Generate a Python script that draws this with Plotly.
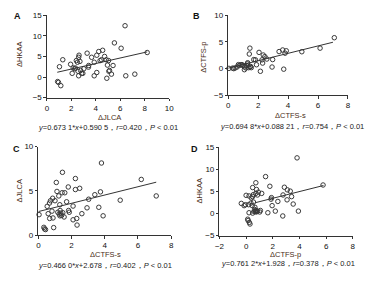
import plotly.graph_objects as go

# ---------------- data ----------------
A_x = [6.39,5.52,6.07,8.2,3.29,4.24,4.56,4.72,4.08,3.66,2.63,2.6,2.41,2.7,2.5,1.3,1.94,1.03,4.46,4.35,5.04,4.85,5.41,5.12,5.28,5.07,4.9,4.08,3.87,3.42,3.4,3.02,2.94,2.84,2.6,2.55,2.28,2.33,2.15,2.07,2.76,6.45,7.19,0.88,0.95,1.14,3.87,4.95]
A_y = [12.47,8.3,7.0,5.96,5.8,6.2,6.5,5.0,5.3,4.8,5.3,4.8,4.0,3.8,3.6,4.2,3.1,2.5,4.2,4.0,4.0,4.2,2.8,1.6,0.7,1.4,-0.3,1.1,0.3,2.8,2.4,2.0,0.9,0.9,0.3,1.4,2.0,2.2,2.2,0.9,1.6,0.3,0.7,-1.1,-1.3,-2.1,3.6,2.9]
A_fit = (0.6731, 0.5905)
A_line_x = [0.85, 8.2]

B_x = [7.09,6.14,4.92,3.88,3.8,3.64,3.4,3.71,2.93,2.97,2.58,2.34,2.45,2.26,2.3,2.06,2.15,1.82,1.71,1.89,1.45,1.41,0.46,0.37,0.59,0.74,0.85,0.98,1.1,1.24,1.28,1.37,1.45,1.54,1.08,1.19,0.05,0.68,0.92,1.3,1.5,0.3]
B_y = [5.8,3.84,3.17,3.35,2.9,3.5,3.2,-0.1,0.3,1.7,1.8,2.56,2.26,1.65,1.04,3.05,-0.5,1.65,1.7,0.73,3.84,2.74,0.12,0.0,0.3,0.6,0.73,0.6,0.3,0.6,0.9,0.18,0.3,0.18,-0.2,0.12,0.05,0.75,0.75,1.1,0.4,0.1]
B_fit = (0.6948, 0.08821)
B_line_x = [0.0, 7.0]

C_x = [3.8,1.45,6.2,2.23,1.08,1.8,2.49,2.23,1.12,1.43,1.59,1.23,3.4,3.74,7.1,4.93,3.03,0.86,0.73,0.67,0.53,1.0,1.7,2.09,1.29,1.82,1.86,2.62,2.93,3.64,3.9,2.31,2.09,2.33,0.92,0.33,0.37,0.43,0.04,0.59,0.82,0.88,0.68,1.17,1.25,1.35,1.4,1.47,1.3,1.55,1.31]
C_y = [8.15,7.1,6.3,6.4,5.96,5.45,5.3,5.16,4.95,4.8,4.8,4.44,4.58,4.9,4.44,3.96,4.07,4.18,3.9,3.64,3.27,3.9,3.78,3.3,3.45,2.8,2.6,2.44,3.1,3.16,2.2,1.9,1.75,1.16,0.87,0.9,0.73,0.65,2.33,2.44,2.73,1.96,1.9,2.6,2.4,2.5,2.25,2.55,2.2,2.07,2.8]
C_fit = (0.4660, 2.678)
C_line_x = [0.0, 7.1]

D_x = [3.82,1.46,5.77,0.73,1.78,0.49,2.87,3.09,3.31,0.78,0.92,1.17,0.73,0.54,0.0,0.22,0.85,0.49,0.39,1.9,1.87,2.77,3.41,3.07,2.38,3.53,1.95,2.19,1.63,2.75,3.92,-0.36,-0.15,-0.05,0.19,0.36,0.46,0.66,0.22,0.64,0.73,0.8,0.68,0.85,0.75,0.6,1.07,1.02,0.49,0.12,0.15,0.24,0.29,0.55]
D_y = [12.6,8.36,6.46,6.97,6.17,5.88,5.95,5.36,5.07,5.44,4.85,4.56,4.56,4.27,4.12,3.98,4.2,3.83,3.54,3.6,3.25,4.2,3.83,3.1,2.74,2.15,1.79,0.55,0.18,-0.55,0.55,2.3,1.79,2.0,2.0,2.37,1.79,1.42,0.18,0.9,0.7,0.6,0.5,0.5,0.35,0.45,0.69,0.35,0.1,-1.28,-1.57,-2.0,-2.37,2.6]
D_fit = (0.7612, 1.928)
D_line_x = [0.65, 5.8]

panel_labels = ["A", "B", "C", "D"]
x_titles = ["ΔJLCA", "ΔCTFS-s", "ΔCTFS-s", "ΔCTFS-p"]
y_titles = ["ΔHKAA", "ΔCTFS-p", "ΔJLCA", "ΔHKAA"]
equations = [
    "<i>y</i>=0.673 1*<i>x</i>+0.590 5，<i>r</i>=0.420，<i>P</i> < 0.01",
    "<i>y</i>=0.694 8*<i>x</i>+0.088 21，<i>r</i>=0.754，<i>P</i> < 0.01",
    "<i>y</i>=0.466 0*<i>x</i>+2.678，<i>r</i>=0.402，<i>P</i> < 0.01",
    "<i>y</i>=0.761 2*<i>x</i>+1.928，<i>r</i>=0.378，<i>P</i> < 0.01",
]
x_ranges = [[0, 10], [0, 8], [0, 8], [-2, 8]]
x_dticks = [2, 2, 2, 2]
y_ranges = [[-5, 15], [-5, 10], [0, 10], [-5, 15]]
y_dticks = [5, 5, 5, 5]

# ---------------- layout geometry (pixels) ----------------
W, H = 376, 281
# plot boxes: (left, right, top, bottom) in px
boxes = [
    (43.0, 168.7, 11.7, 96.7),
    (229.3, 352.3, 11.7, 94.3),
    (34.3, 170.7, 147.3, 239.0),
    (220.3, 357.3, 148.0, 239.3),
]
letter_pos = [(13, 12), (197, 12), (12, 150), (195, 150)]
xtitle_pos = [(107, 117), (293, 115.5), (103, 259), (288, 259)]
ytitle_pos = [(15, 52), (204, 55), (15, 193), (200, 193)]
eq_pos = [(106, 127.5), (295, 127), (103, 270), (291, 268)]

def fx(px):
    return px / W

def fy(py):
    return 1 - py / H

fig = go.Figure()
datasets = [(A_x, A_y, A_fit, A_line_x), (B_x, B_y, B_fit, B_line_x),
            (C_x, C_y, C_fit, C_line_x), (D_x, D_y, D_fit, D_line_x)]

axis_color = "#333333"
tick_font = dict(family="Liberation Sans, Arial, sans-serif", size=8, color="#111111")
title_font = dict(family="Liberation Sans, Arial, sans-serif", size=7.5, color="#4a2e20")

annotations = []
def ann(text, px, py, font, angle=0):
    annotations.append(dict(text=text, x=fx(px), y=fy(py), xref="paper", yref="paper",
                            xanchor="center", yanchor="middle", showarrow=False,
                            textangle=angle, font=font))

for i, (xs, ys, fit, lx) in enumerate(datasets):
    n = "" if i == 0 else str(i + 1)
    xa, ya = "x" + n, "y" + n
    fig.add_trace(go.Scatter(
        x=xs, y=ys, mode="markers", xaxis=xa, yaxis=ya, showlegend=False,
        marker=dict(symbol="circle-open", size=4.5, color="#3a3a3a", line=dict(width=1)),
        cliponaxis=False))
    slope, icpt = fit
    fig.add_trace(go.Scatter(
        x=lx, y=[slope * v + icpt for v in lx], mode="lines", xaxis=xa, yaxis=ya,
        showlegend=False, line=dict(color="#333333", width=1)))
    l, r, t, b = boxes[i]
    fig.update_layout(**{
        "xaxis" + n: dict(domain=[fx(l), fx(r)], range=x_ranges[i], dtick=x_dticks[i],
                          anchor=ya, showline=True, linecolor=axis_color, linewidth=1,
                          ticks="outside", ticklen=2.5, tickwidth=1, tickcolor=axis_color,
                          showgrid=False, zeroline=False, tickfont=tick_font, fixedrange=True),
        "yaxis" + n: dict(domain=[fy(b), fy(t)], range=y_ranges[i], dtick=y_dticks[i],
                          anchor=xa, showline=True, linecolor=axis_color, linewidth=1,
                          ticks="outside", ticklen=2.5, tickwidth=1, tickcolor=axis_color,
                          showgrid=False, zeroline=False, tickfont=tick_font, fixedrange=True),
    })
    ann("<b>%s</b>" % panel_labels[i], *letter_pos[i],
        dict(family="Liberation Sans, Arial", size=9, color="#111"))
    ann(x_titles[i], *xtitle_pos[i], title_font)
    ann(y_titles[i], *ytitle_pos[i], title_font, angle=-90)
    ann(equations[i], *eq_pos[i],
        dict(family="Liberation Sans, Arial", size=7.5, color="#1a1a1a"))

fig.update_layout(width=W, height=H, margin=dict(l=0, r=0, t=0, b=0),
                  paper_bgcolor="white", plot_bgcolor="white", annotations=annotations)

fig.write_html("out.html", config={"displayModeBar": False},
               post_script="document.body.style.margin='0';document.body.style.padding='0';")
